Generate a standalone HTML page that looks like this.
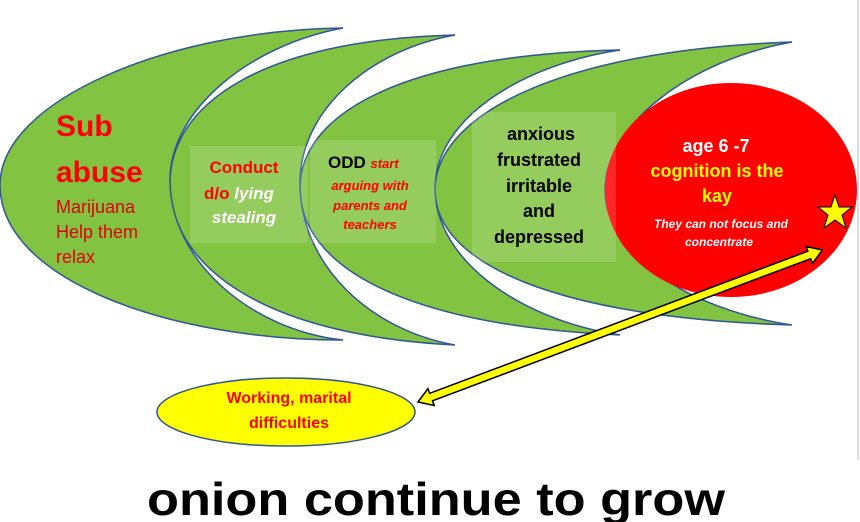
<!DOCTYPE html>
<html><head><meta charset="utf-8"><style>
html,body{margin:0;padding:0;background:#fff;}
svg{display:block}
text{font-family:"Liberation Sans",Arial,sans-serif;font-weight:bold}
</style></head><body>
<svg width="860" height="522" viewBox="0 0 860 522" xmlns="http://www.w3.org/2000/svg">
<rect width="860" height="522" fill="#fff"/>
<line x1="858" y1="0" x2="858" y2="460" stroke="#ddd" stroke-width="2"/>
<g fill="#82c341" stroke="#2f5597" stroke-width="1.5">
<path d="M792,42 C560,50 435,115 435,190 C435,265 560,318 792,325 C690,310 605,255 605,190 C605,125 690,60 792,42 Z"/>
<path d="M620,50 C400,55 300,115 300,188 C300,265 400,325 620,335 C520,320 435,260 435,188 C435,120 520,65 620,50 Z"/>
<path d="M455,35 C260,40 170,105 170,183 C170,265 260,335 455,345 C370,330 300,265 300,183 C300,110 370,50 455,35 Z"/>
<path d="M343,28 C170,30 0,100 0,185 C0,280 170,340 343,340 C250,330 170,260 170,180 C170,110 250,45 343,28 Z"/>
</g>
<ellipse cx="731" cy="190" rx="126" ry="107" fill="#ff0000"/>
<rect x="190" y="146" width="118" height="97" fill="#ffffff" opacity="0.15"/>
<rect x="310" y="140" width="126" height="103" fill="#ffffff" opacity="0.15"/>
<rect x="472" y="112" width="144" height="150" fill="#ffffff" opacity="0.15"/>
<text x="56" y="136" font-size="30" fill="#ff0000">Sub</text>
<text x="56" y="182" font-size="30" fill="#ff0000">abuse</text>
<g font-size="18" fill="#e00000">
<text x="56" y="213" style="font-weight:normal">Marijuana</text>
<text x="56" y="238" style="font-weight:normal">Help them</text>
<text x="56" y="263" style="font-weight:normal">relax</text>
</g>
<text x="244" y="173" font-size="17" fill="#ff0000" text-anchor="middle">Conduct</text>
<text x="204" y="199" font-size="17" fill="#ff0000">d/o <tspan fill="#fff" font-style="italic">lying</tspan></text>
<text x="244" y="223" font-size="17" fill="#fff" font-style="italic" text-anchor="middle">stealing</text>
<text x="328" y="168" font-size="17" fill="#000">ODD <tspan fill="#ff0000" font-style="italic" font-size="13">start</tspan></text>
<g font-size="13" fill="#ff0000" font-style="italic" text-anchor="middle">
<text x="370" y="190">arguing with</text>
<text x="370" y="210">parents and</text>
<text x="370" y="229">teachers</text>
</g>
<g font-size="18" fill="#000" text-anchor="middle">
<text x="541" y="140">anxious</text>
<text x="539" y="166">frustrated</text>
<text x="539" y="192">irritable</text>
<text x="539" y="217">and</text>
<text x="539" y="243">depressed</text>
</g>
<text x="716" y="152" font-size="18" fill="#fff" text-anchor="middle">age 6 -7</text>
<text x="717" y="177" font-size="18" fill="#ffff00" text-anchor="middle">cognition is the</text>
<text x="717" y="202" font-size="18" fill="#ffff00" text-anchor="middle">kay</text>
<path d="M702,208 l3,3 3,-3 3,3 3,-3 3,3 3,-3 3,3 3,-3 3,3" fill="none" stroke="#d00" stroke-width="1"/>
<text x="721" y="228" font-size="12" fill="#fff" font-style="italic" text-anchor="middle">They can not focus and</text>
<text x="719" y="246" font-size="12" fill="#fff" font-style="italic" text-anchor="middle">concentrate</text>
<polygon points="835,195 839,207 852,207 842,215 846,228 835,220 824,228 828,215 818,207 831,207" fill="#ffff00" stroke="#000" stroke-width="1"/>
<g transform="translate(418,402) rotate(-20.6)">
<polygon points="0,0 14,-9 14,-4 418,-4 418,-9 432,0 418,9 418,4 14,4 14,9" fill="#ffff00" stroke="#000" stroke-width="1.5"/>
</g>
<ellipse cx="286" cy="412" rx="129" ry="34" fill="#ffff00" stroke="#2f5597" stroke-width="1.5"/>
<text x="289" y="403" font-size="16" fill="#ff0000" text-anchor="middle">Working, marital</text>
<text x="289" y="428" font-size="16" fill="#ff0000" text-anchor="middle">difficulties</text>
<text x="147" y="515" font-size="46" fill="#000" textLength="578" lengthAdjust="spacingAndGlyphs">onion continue to grow</text>
</svg>
</body></html>
